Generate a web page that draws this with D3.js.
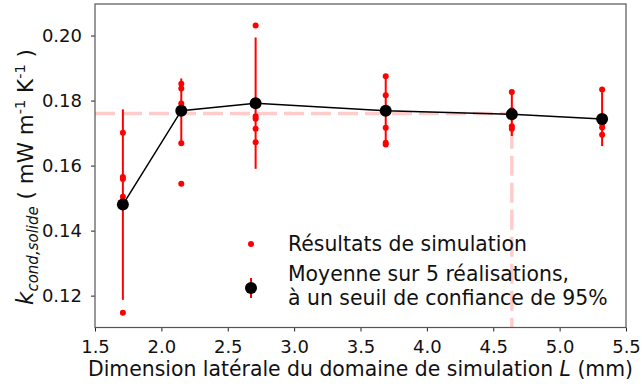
<!DOCTYPE html>
<html>
<head>
<meta charset="utf-8">
<script src="https://cdn.jsdelivr.net/npm/d3@7/dist/d3.min.js"></script>
<style>
  html, body { margin: 0; padding: 0; background: #fff; }
  svg { display: block; font-family: "DejaVu Sans", sans-serif; }
</style>
</head>
<body>
<svg id="chart" width="642" height="388"></svg>
<script>
// Lateral size of the simulation domain (mm)
const sizes = [1.71, 2.15, 2.71, 3.69, 4.64, 5.32];
// Five simulation runs for each domain size (mW m^-1 K^-1)
const runs = [
  [0.1701, 0.1565, 0.1559, 0.1504, 0.1147],
  [0.1852, 0.1837, 0.1791, 0.1669, 0.1544],
  [0.2031, 0.1752, 0.1744, 0.1713, 0.1672],
  [0.1875, 0.1816, 0.1716, 0.1670, 0.1665],
  [0.1826, 0.1770, 0.1760, 0.1721, 0.1713],
  [0.1834, 0.1740, 0.1729, 0.1717, 0.1695]
];
// Mean over the 5 runs and 95 % confidence half-width
const means = [0.1480, 0.1769, 0.1792, 0.1769, 0.1758, 0.1743];
const halfWidths = [0.0293, 0.0099, 0.0202, 0.0102, 0.0067, 0.0083];
// Converged value and the size from which it is reached
const plateauValue = 0.176;
const plateauSize = 4.64;
// Axis ticks
const xTicks = [1.5, 2.0, 2.5, 3.0, 3.5, 4.0, 4.5, 5.0, 5.5];
const yTicks = [0.12, 0.14, 0.16, 0.18, 0.20];

const svg = d3.select("#chart");
const plotLeft = 95, plotRight = 626, plotTop = 4, plotBottom = 327.5;

const x = d3.scaleLinear().domain([1.5, 5.5]).range([plotLeft, plotRight]);
const y = d3.scaleLinear().domain([0.1102, 0.2097]).range([plotBottom, plotTop]);

const tickFont = 18;
const labelFont = 20.4;

// Reference lines (plateau level and convergence size)
const refPath = d3.line().x(d => x(d[0])).y(d => y(d[1]));
svg.append("path")
  .attr("d", refPath([[1.5, plateauValue], [plateauSize, plateauValue], [plateauSize, y.invert(plotBottom)]]))
  .attr("fill", "none")
  .attr("stroke", "#ffcccc")
  .attr("stroke-width", 3.5)
  .attr("stroke-dasharray", "20,7");

// Confidence intervals
svg.append("g").selectAll("line")
  .data(sizes)
  .join("line")
  .attr("x1", d => x(d)).attr("x2", d => x(d))
  .attr("y1", (d, i) => y(means[i] - halfWidths[i]))
  .attr("y2", (d, i) => y(means[i] + halfWidths[i]))
  .attr("stroke", "#ff0000")
  .attr("stroke-width", 2);

// Individual simulation results
const pts = [];
sizes.forEach((s, i) => runs[i].forEach(v => pts.push([s, v])));
svg.append("g").selectAll("circle")
  .data(pts)
  .join("circle")
  .attr("cx", d => x(d[0]))
  .attr("cy", d => y(d[1]))
  .attr("r", 3)
  .attr("fill", "#ff0000");

// Mean curve
svg.append("path")
  .attr("d", d3.line().x((d, i) => x(sizes[i])).y(d => y(d))(means))
  .attr("fill", "none")
  .attr("stroke", "#000")
  .attr("stroke-width", 1.5);

svg.append("g").selectAll("circle")
  .data(means)
  .join("circle")
  .attr("cx", (d, i) => x(sizes[i]))
  .attr("cy", d => y(d))
  .attr("r", 6)
  .attr("fill", "#000");

// Axes
const xAxis = d3.axisBottom(x).tickValues(xTicks).tickFormat(d3.format(".1f")).tickSizeOuter(0).tickSize(4).tickPadding(9);
const yAxis = d3.axisLeft(y).tickValues(yTicks).tickFormat(d3.format(".2f")).tickSizeOuter(0).tickSize(4).tickPadding(9);

const gx = svg.append("g").attr("transform", `translate(0,${plotBottom})`).call(xAxis);
const gy = svg.append("g").attr("transform", `translate(${plotLeft},0)`).call(yAxis);
[gx, gy].forEach(g => {
  g.select(".domain").remove();
  g.selectAll(".tick line").attr("stroke", "#222").attr("stroke-width", 1);
  g.selectAll(".tick text").attr("font-size", tickFont).attr("fill", "#111")
    .attr("font-family", "DejaVu Sans");
});

// Frame
svg.append("rect")
  .attr("x", plotLeft).attr("y", plotTop)
  .attr("width", plotRight - plotLeft).attr("height", plotBottom - plotTop)
  .attr("fill", "none")
  .attr("stroke", "#555")
  .attr("stroke-width", 1.2);

// Axis titles
const xt = svg.append("text")
  .attr("x", (plotLeft + plotRight) / 2).attr("y", 376)
  .attr("text-anchor", "middle")
  .attr("font-size", labelFont).attr("fill", "#111");
xt.append("tspan").text("Dimension latérale du domaine de simulation ");
xt.append("tspan").attr("font-style", "italic").text("L");
xt.append("tspan").text(" (mm)");

const yt = svg.append("text")
  .attr("transform", `translate(33,177) rotate(-90)`)
  .attr("text-anchor", "middle")
  .attr("font-size", 21.5).attr("fill", "#111")
  .attr("xml:space", "preserve");
yt.append("tspan").attr("font-style", "italic").attr("font-size", 23).text("k");
yt.append("tspan").attr("font-style", "italic").attr("font-size", 15).attr("dy", 4.5).text("cond,solide");
yt.append("tspan").attr("dy", -4.5).text(" ( mW m");
yt.append("tspan").attr("font-size", 14.5).attr("dy", -8).text("-1");
yt.append("tspan").attr("dy", 8).text(" K");
yt.append("tspan").attr("font-size", 14.5).attr("dy", -8).text("-1");
yt.append("tspan").attr("dy", 8).text(" )");

// Legend
const lg = svg.append("g");
lg.append("circle").attr("cx", 251).attr("cy", 244).attr("r", 3).attr("fill", "#ff0000");
lg.append("text").attr("x", 288).attr("y", 251).attr("font-size", labelFont).attr("fill", "#111")
  .text("Résultats de simulation");
lg.append("line").attr("x1", 251).attr("x2", 251).attr("y1", 278).attr("y2", 298)
  .attr("stroke", "#ff0000").attr("stroke-width", 2);
lg.append("circle").attr("cx", 251).attr("cy", 288).attr("r", 6).attr("fill", "#000");
lg.append("text").attr("x", 288).attr("y", 281).attr("font-size", labelFont).attr("fill", "#111")
  .text("Moyenne sur 5 réalisations,");
lg.append("text").attr("x", 288).attr("y", 304.5).attr("font-size", labelFont).attr("fill", "#111")
  .text("à un seuil de confiance de 95%");
</script>
</body>
</html>
